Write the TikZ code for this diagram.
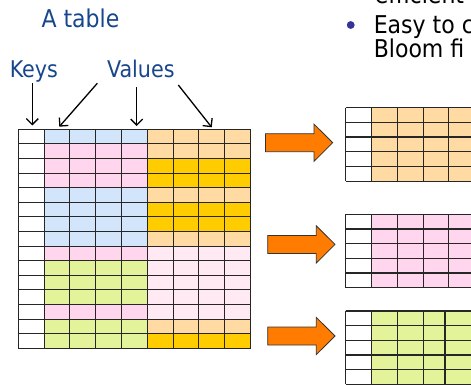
\documentclass[tikz,border=0pt]{standalone}
\usepackage{fontspec}
\newfontfamily\slidefont{DejaVu Sans Condensed}
\usetikzlibrary{arrows.meta}

\definecolor{titleblue}{HTML}{18468C}
\definecolor{bulletblue}{HTML}{333399}
\definecolor{cblue}{HTML}{D3E5FB}
\definecolor{cpink}{HTML}{FFD6EE}
\definecolor{corange}{HTML}{FFDBA3}
\definecolor{cgold}{HTML}{FFCC00}
\definecolor{cpale}{HTML}{FFEAF4}
\definecolor{cgreen}{HTML}{E2F39A}
\definecolor{arroworange}{HTML}{FF7C00}

\begin{document}
\begin{tikzpicture}[x=1pt,y=-1pt,
  lbl/.style={inner sep=0pt, anchor=base west, text=titleblue,
    font=\slidefont\fontsize{23}{23}\selectfont},
  body/.style={inner sep=0pt, anchor=base west, text=black,
    font=\slidefont\fontsize{24.5}{24.5}\selectfont},
  gridline/.style={draw=black!85, line width=1.1pt},
  ptr/.style={line width=1.3pt, -{Straight Barb[length=6pt,width=12pt,line width=1.3pt]}},
  barrow/.style={fill=arroworange, draw=black!80, line width=0.8pt, line join=miter},
  blockarrow/.pic={
    \path[barrow] (0,0) -- (-18.7,-18.6) -- (-18.7,-9) -- (-67.3,-9)
      -- (-67.3,9) -- (-18.7,9) -- (-18.7,18.6) -- cycle;
  }]
\useasboundingbox (0,0) rectangle (471,385);
\clip (0,0) rectangle (471,385);

% headings
\node[lbl, font=\slidefont\fontsize{24.5}{24.5}\selectfont] (title) at (41.3,27.3) {A table};
\node[lbl] (keys) at (9.6,77.3) {Keys};
\node[lbl] (values) at (107,77.3) {Values};

% bullet text on the right
\node[body] (prev) at (374.6,3.6) {efficient};
\fill[bulletblue] (350.7,25) circle (3.9);
\node[body] (easy) at (373.6,33.3) {Easy to c};
\node[body] (bloom) at (373.6,57.5) {Bloom fi};

% pointers from the labels
\coordinate (k0) at (32.3,83.3);  \coordinate (k1) at (32.3,125.5);
\coordinate (v0) at (97.3,83.3);  \coordinate (v1) at (59.3,126.7);
\coordinate (w0) at (136.7,87.3); \coordinate (w1) at (136.7,126);
\coordinate (u0) at (178.3,85);   \coordinate (u1) at (211.7,127.3);
\draw[ptr] (k0) -- (k1);
\draw[ptr] (v0) -- (v1);
\draw[ptr] (w0) -- (w1);
\draw[ptr] (u0) -- (u1);

% main key/value table: 15 rows, key column + 2 blocks of 4 value columns
\def\xo{18.3}\def\yo{129.3}\def\cw{25.8}\def\rh{14.6}
\foreach \lc/\rc [count=\i from 0] in {cblue/corange, cpink/corange, cpink/cgold,
    cpink/cgold, cblue/corange, cblue/cgold, cblue/cgold, cblue/corange,
    cpink/cpale, cgreen/cpale, cgreen/cpale, cgreen/cpale, cpink/cpale,
    cgreen/corange, cgreen/cgold}{
  \fill[\lc] (\xo+\cw,\yo+\i*\rh) rectangle (\xo+5*\cw,\yo+\i*\rh+\rh);
  \fill[\rc] (\xo+5*\cw,\yo+\i*\rh) rectangle (\xo+9*\cw,\yo+\i*\rh+\rh);
}
\foreach \i in {0,...,15}
  \draw[gridline] (\xo,\yo+\i*\rh) -- (\xo+9*\cw,\yo+\i*\rh);
\foreach \j in {0,...,9}
  \draw[gridline] (\xo+\j*\cw,\yo) -- (\xo+\j*\cw,\yo+15*\rh);

% split tables on the right
\def\rx{345.7}\def\rr{14.67}
\foreach \ty/\fc in {107.7/corange, 214.3/cpink}{
  \fill[\fc] (\rx+\cw,\ty) rectangle (480,\ty+5*\rr);
  \foreach \i in {0,...,5}
    \draw[gridline] (\rx,\ty+\i*\rr) -- (480,\ty+\i*\rr);
  \foreach \j in {0,...,5}
    \draw[gridline] (\rx+\j*\cw,\ty) -- (\rx+\j*\cw,\ty+5*\rr);
}
\def\ty{311}
\fill[cgreen] (\rx+\cw,\ty) rectangle (480,\ty+5*\rr);
\foreach \i in {0,...,5}
  \draw[gridline] (\rx,\ty+\i*\rr) -- (480,\ty+\i*\rr);
\foreach \gx in {345.7,371.5,397.3,423.1,445}
  \draw[gridline] (\gx,\ty) -- (\gx,\ty+5*\rr);

% block arrows
\pic (arrowA) at (332.7,142.7) {blockarrow};
\pic (arrowB) at (335,244.4) {blockarrow};
\pic (arrowC) at (335,336) {blockarrow};
\end{tikzpicture}
\end{document}
